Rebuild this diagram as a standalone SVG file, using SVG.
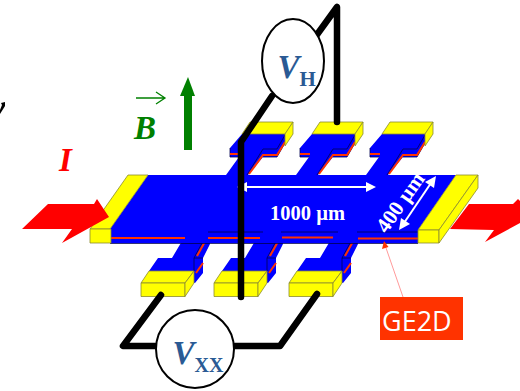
<svg xmlns="http://www.w3.org/2000/svg" width="520" height="391" viewBox="0 0 520 391">
<style>
.blue{fill:#0000ff}
.yel{fill:#ffff00;stroke:#8a8a30;stroke-width:.8;stroke-linejoin:round}
.red{fill:none;stroke:#ff3300;stroke-width:2}
.edge{fill:none;stroke:#000050;stroke-width:.8}
.wire{fill:none;stroke:#000;stroke-width:6.500;stroke-linecap:round;stroke-linejoin:round}
.meter{fill:#fff;stroke:#000;stroke-width:2}
.arrow{fill:#ff0000}
.w{fill:none;stroke:#fff;stroke-width:2}
.wh{fill:#fff}
.serif{font-family:"Liberation Serif","Times New Roman",serif;font-weight:bold}
.vt{fill:#2a5a94}
</style>
<defs>
<g id="topFinger">
<polygon class="blue" points="242,134 285,134 285,143 277,157 263,157 248,175 226,175 239,157 230,157 230,148"/>
<polyline class="edge" points="285,135 277,149 263,149 247,175"/>
<polyline class="edge" points="230,148 230,157 239,157"/>
<polyline class="edge" points="285,143 277,157 263,157"/>
<polyline class="red" points="285,142 277,155 263,155 249,174"/>
<line class="red" x1="230" y1="154" x2="240" y2="154"/>
<polygon class="yel" points="250,122 293,122 285,134 242,134"/>
<polygon class="yel" points="293,122 293,134 285,146 285,134"/>
</g>
<g id="bottomFinger">
<polygon class="blue" points="185,236 172,258 158,258 149,271 195,283 203,273 203,258 210,244 208,232"/>
<polyline class="edge" points="208,232 194,258 203,258"/>
<line class="edge" x1="194" y1="258" x2="194" y2="271"/>
<polyline class="red" points="207,238 197,256"/>
<polyline class="red" points="203,263 196,273"/>
<polygon class="yel" points="149,271 194,271 185,283 141,283"/>
<rect class="yel" x="141" y="283" width="44" height="13.500"/>
<polygon class="yel" points="194,271 194,283 185,296.500 185,283"/>
</g>
</defs>

<g id="arrow-right">
<polygon class="arrow" points="450,229 469,204 513,204 518,199 535,215 485,242 494,230"/>
</g>

<g id="top-finger-1"><use href="#topFinger"/></g>
<g id="top-finger-2"><use href="#topFinger" x="70"/></g>
<g id="top-finger-3"><use href="#topFinger" x="140"/></g>
<g id="bottom-finger-1"><use href="#bottomFinger"/></g>
<g id="bottom-finger-2"><use href="#bottomFinger" x="73"/></g>
<g id="bottom-finger-3"><use href="#bottomFinger" x="148"/></g>

<g id="hall-bar">
<polygon class="blue" points="148,175 456,175 418,230 418,243 110,243 110,229"/>
<line class="edge" x1="110" y1="243.500" x2="418" y2="243.500"/>
<path class="edge" d="M208 232H263M281 232H338M357 232H418"/>
<path class="red" d="M110 238H185M208 238H260M282 237.500H333M358 238.500H418"/>
<polygon class="yel" points="128,175 148,175 110,229 90,229"/>
<rect class="yel" x="90" y="229" width="21" height="14"/>
<polygon class="yel" points="456,175 478,175 439,230 418,230"/>
<rect class="yel" x="418" y="230" width="21" height="13"/>
<polygon class="yel" points="478,175 478,188 439,243 439,230"/>
</g>

<g id="arrow-left">
<polygon class="arrow" points="22,229 48,204 94,204 97,199 109,217 62,243 72,229"/>
</g>

<g id="dimensions">
<line class="w" x1="245" y1="187" x2="368" y2="187"/>
<polygon class="wh" points="237,187 247,182 247,192"/>
<polygon class="wh" points="376,187 366,182 366,192"/>
<text class="serif" x="270" y="220" font-size="20.500" fill="#fff">1000 µm</text>
<line class="w" x1="404" y1="223" x2="431" y2="183"/>
<polygon class="wh" points="436,176 434,188 425,182"/>
<polygon class="wh" points="399,230 401,218 410,224"/>
<text class="serif" x="406" y="206.500" font-size="21.500" fill="#fff" text-anchor="middle" transform="rotate(-55 406 206.500)">400 µm</text>
</g>

<g id="connectors">
<polyline class="wire" points="241,297 241,142 272,96"/>
<polyline class="wire" points="316,36 337,7 337,122"/>
<polyline class="wire" points="161,295 123,346 280,346 317,294"/>
<line x1="403" y1="297" x2="385" y2="245" stroke="#ff9a9a" stroke-width="1"/>
<polygon points="384,241 388.500,247 382,249" fill="#ff3300"/>
</g>

<g id="meter-vh">
<ellipse class="meter" cx="293" cy="61" rx="31" ry="42"/>
<text class="serif vt" x="277.500" y="78" font-size="33" font-style="italic">V<tspan dy="8" font-size="21" font-style="normal">H</tspan></text>
</g>
<g id="meter-vxx">
<circle class="meter" cx="195" cy="349" r="39"/>
<text class="serif vt" x="172.500" y="364" font-size="33" font-style="italic">V<tspan dy="8" font-size="20" font-style="normal">XX</tspan></text>
</g>

<g id="b-field">
<rect x="184" y="95" width="8" height="55" fill="#008000"/>
<polygon points="188,77 195,96 180,96" fill="#008000"/>
<path d="M136 98H164M156 92L165 98L156 104" fill="none" stroke="#008000" stroke-width="1.300"/>
<text class="serif" x="134" y="139" font-size="33" font-style="italic" fill="#008000">B</text>
</g>

<g id="current-label">
<text class="serif" x="59" y="171" font-size="33" font-style="italic" fill="#ff0000">I</text>
</g>

<g id="ge2d">
<rect x="380" y="297" width="83" height="43" fill="#ff3300"/>
<text x="382" y="331" font-family="'Open Sans','Noto Sans',sans-serif" font-size="27" fill="#fff">GE2D</text>
</g>

<polygon id="mark" points="0,110 2,105 1,103 5,102 5,106 0,114" fill="#000"/>
</svg>
